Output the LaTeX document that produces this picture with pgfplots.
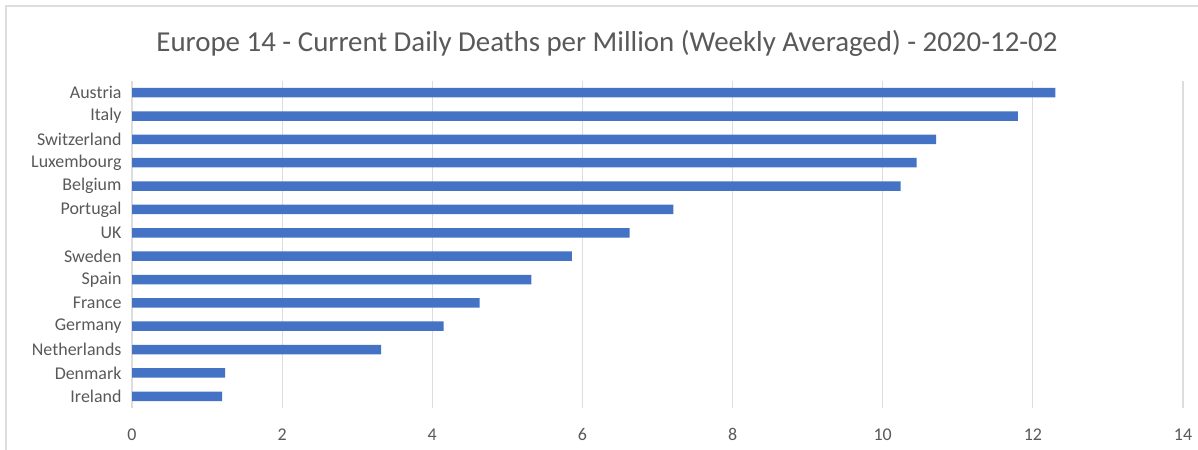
\documentclass[border=0pt]{standalone}
\usepackage{fontspec}
\setmainfont{Carlito}
\usepackage{pgfplots}
\pgfplotsset{compat=1.18}
\usepackage{pgfplotstable}

\definecolor{barblue}{HTML}{4472C4}
\definecolor{txtgray}{HTML}{595959}
\definecolor{gridgray}{HTML}{DDDDDD}
\definecolor{framegray}{HTML}{DDDDDD}

\pgfplotstableread{
idx val
0  1.20
1  1.24
2  3.32
3  4.15
4  4.63
5  5.32
6  5.86
7  6.63
8  7.21
9  10.24
10 10.45
11 10.71
12 11.80
13 12.30
}\deaths

\begin{document}
\begin{tikzpicture}
\path[use as bounding box] (0bp,0bp) rectangle (1198bp,450bp);
\fill[white] (0bp,0bp) rectangle (1198bp,450bp);
\draw[framegray, line width=2bp] (6bp,0bp) -- (6bp,444bp) -- (1198bp,444bp);
\node[txtgray, font=\fontsize{29}{33}\selectfont] at (607bp,407bp)
  {Europe 14 - Current Daily Deaths per Million (Weekly Averaged) - 2020-12-02};
\begin{axis}[
  at={(132bp,42bp)}, anchor=south west,
  scale only axis, width=1051bp, height=327bp,
  xmin=0, xmax=14, ymin=-0.5, ymax=13.5,
  xtick={0,2,...,14},
  ytick=data,
  yticklabels={Ireland,Denmark,Netherlands,Germany,France,Spain,Sweden,UK,Portugal,Belgium,Luxembourg,Switzerland,Italy,Austria},
  xmajorgrids, major grid style={gridgray, line width=1.2bp},
  axis line style={draw=none},
  major tick length=0pt,
  tick label style={txtgray, font=\fontsize{18}{20}\selectfont},
  /pgf/number format/assume math mode=true,
  xticklabel style={yshift=-17bp},
  yticklabel style={xshift=-7bp},
  xbar, bar width=9.5bp,
]
\addplot[fill=barblue, draw=none] table[x=val, y=idx] {\deaths};
\end{axis}
\end{tikzpicture}
\end{document}
